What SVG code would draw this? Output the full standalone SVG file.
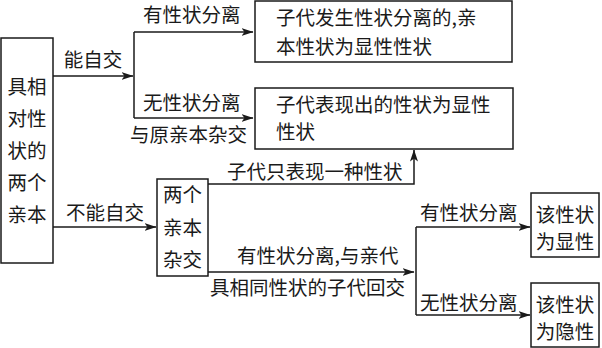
<svg xmlns="http://www.w3.org/2000/svg" width="602" height="348" viewBox="0 0 602 348">
<style>
text{font-family:"Noto Sans CJK SC","Noto Sans",sans-serif;font-size:19.5px;fill:#1a1a1a}
.box{fill:#fff;stroke:#1a1a1a;stroke-width:1.5}
.c{text-anchor:middle}
#connectors path{fill:none;stroke:#1a1a1a;stroke-width:1.5}
</style>
<defs>
<marker id="arr" viewBox="0 0 12 8" refX="11.5" refY="4" markerWidth="12" markerHeight="8" markerUnits="userSpaceOnUse" orient="auto">
<path d="M0,0 L12,4 L0,8 L3,4 z" fill="#1a1a1a"/>
</marker>
</defs>
<rect width="602" height="348" fill="#fff"/>
<g id="connectors">
<path d="M53,76 H133" marker-end="url(#arr)"/>
<path d="M134,32 V118"/>
<path d="M134,32 H253" marker-end="url(#arr)"/>
<path d="M134,118 H253" marker-end="url(#arr)"/>
<path d="M53,227 H156" marker-end="url(#arr)"/>
<path d="M208,184 H414 V150" marker-end="url(#arr)"/>
<path d="M208,272 H414" marker-end="url(#arr)"/>
<path d="M416,227 V315"/>
<path d="M416,227 H530" marker-end="url(#arr)"/>
<path d="M416,315 H530" marker-end="url(#arr)"/>
</g>
<g id="labels">
<text x="93" y="67" class="c">能自交</text>
<text x="143" y="22">有性状分离</text>
<text x="143" y="110">无性状分离</text>
<text x="130" y="142">与原亲本杂交</text>
<text x="105" y="220" class="c">不能自交</text>
<text x="227" y="179">子代只表现一种性状</text>
<text x="237" y="263">有性状分离,与亲代</text>
<text x="210" y="295">具相同性状的子代回交</text>
<text x="420" y="220">有性状分离</text>
<text x="420" y="310">无性状分离</text>
</g>
<g id="node-parents">
<rect class="box" x="1" y="38" width="52" height="225"/>
<text x="27" y="94" class="c">具相</text>
<text x="27" y="126" class="c">对性</text>
<text x="27" y="158" class="c">状的</text>
<text x="27" y="190" class="c">两个</text>
<text x="27" y="222" class="c">亲本</text>
</g>
<g id="node-result1">
<rect class="box" x="255" y="1" width="257" height="61"/>
<text x="276" y="25">子代发生性状分离的,亲</text>
<text x="276" y="54">本性状为显性性状</text>
</g>
<g id="node-result2">
<rect class="box" x="255" y="88" width="258" height="61"/>
<text x="276" y="112">子代表现出的性状为显性</text>
<text x="276" y="139">性状</text>
</g>
<g id="node-cross">
<rect class="box" x="157" y="179" width="51" height="97"/>
<text x="182.5" y="202" class="c">两个</text>
<text x="182.5" y="235" class="c">亲本</text>
<text x="182.5" y="267" class="c">杂交</text>
</g>
<g id="node-dominant">
<rect class="box" x="531" y="193" width="68" height="64"/>
<text x="565" y="222" class="c">该性状</text>
<text x="565" y="249" class="c">为显性</text>
</g>
<g id="node-recessive">
<rect class="box" x="531" y="283" width="68" height="64"/>
<text x="565" y="312" class="c">该性状</text>
<text x="565" y="339" class="c">为隐性</text>
</g>
</svg>
